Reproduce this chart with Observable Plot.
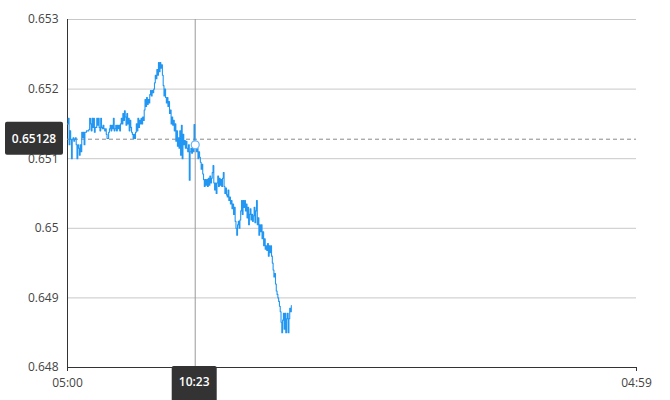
<!DOCTYPE html>
<html>
<head>
<meta charset="utf-8">
<script src="https://cdn.jsdelivr.net/npm/d3@7"></script>
<script src="https://cdn.jsdelivr.net/npm/@observablehq/plot@0.6"></script>
<style>
  html, body { margin: 0; padding: 0; background: #fff; }
  #chart svg { display: block; }
</style>
</head>
<body>
<div id="chart"></div>
<script>
// ---- Data ----
const sessionStart = "05:00";      // first quote
const sessionEnd = "04:59";        // end of axis (next day)
const stepMinutes = 2;             // spacing of quotes
const prices = [
  0.65150, 0.65158, 0.65120, 0.65140, 0.65128, 0.65100, 0.65128, 0.65130, 0.65125, 0.65128,
  0.65130, 0.65120, 0.65100, 0.65120, 0.65115, 0.65105, 0.65120, 0.65110, 0.65138, 0.65130,
  0.65138, 0.65120, 0.65138, 0.65138, 0.65140, 0.65140, 0.65140, 0.65142, 0.65158, 0.65150,
  0.65140, 0.65158, 0.65145, 0.65158, 0.65138, 0.65145, 0.65145, 0.65158, 0.65148, 0.65158,
  0.65145, 0.65140, 0.65158, 0.65145, 0.65143, 0.65148, 0.65143, 0.65140, 0.65143, 0.65135,
  0.65129, 0.65129, 0.65138, 0.65143, 0.65148, 0.65140, 0.65148, 0.65143, 0.65158, 0.65140,
  0.65143, 0.65148, 0.65140, 0.65148, 0.65143, 0.65148, 0.65140, 0.65150, 0.65158, 0.65150,
  0.65165, 0.65155, 0.65169, 0.65160, 0.65148, 0.65165, 0.65150, 0.65158, 0.65140, 0.65155,
  0.65145, 0.65138, 0.65135, 0.65129, 0.65135, 0.65129, 0.65138, 0.65150, 0.65140, 0.65158,
  0.65145, 0.65155, 0.65150, 0.65158, 0.65150, 0.65160, 0.65155, 0.65170, 0.65185, 0.65175,
  0.65188, 0.65178, 0.65185, 0.65180, 0.65192, 0.65198, 0.65190, 0.65198, 0.65195, 0.65200,
  0.65209, 0.65220, 0.65215, 0.65228, 0.65220, 0.65238, 0.65225, 0.65238, 0.65230, 0.65235,
  0.65220, 0.65205, 0.65190, 0.65200, 0.65188, 0.65180, 0.65188, 0.65175, 0.65182, 0.65165,
  0.65170, 0.65150, 0.65160, 0.65148, 0.65155, 0.65140, 0.65150, 0.65125, 0.65140, 0.65118,
  0.65130, 0.65115, 0.65140, 0.65105, 0.65148, 0.65100, 0.65135, 0.65120, 0.65126, 0.65115,
  0.65125, 0.65115, 0.65110, 0.65120, 0.65069, 0.65110, 0.65115, 0.65108, 0.65118, 0.65110,
  0.65149, 0.65120, 0.65118, 0.65110, 0.65115, 0.65100, 0.65110, 0.65102, 0.65095, 0.65085,
  0.65092, 0.65078, 0.65070, 0.65060, 0.65070, 0.65062, 0.65070, 0.65060, 0.65072, 0.65062,
  0.65075, 0.65065, 0.65072, 0.65080, 0.65090, 0.65065, 0.65055, 0.65065, 0.65050, 0.65065,
  0.65075, 0.65060, 0.65072, 0.65062, 0.65070, 0.65060, 0.65072, 0.65080, 0.65060, 0.65050,
  0.65058, 0.65048, 0.65045, 0.65055, 0.65040, 0.65045, 0.65035, 0.65040, 0.65028, 0.65035,
  0.65020, 0.65030, 0.65010, 0.65000, 0.64990, 0.65005, 0.65010, 0.65000, 0.65012, 0.65025,
  0.65040, 0.65020, 0.65040, 0.65030, 0.65040, 0.65025, 0.65035, 0.65015, 0.65030, 0.65005,
  0.65020, 0.65028, 0.65012, 0.65020, 0.65010, 0.65018, 0.65030, 0.65008, 0.65025, 0.65040,
  0.65005, 0.65015, 0.64990, 0.65005, 0.64995, 0.65005, 0.64985, 0.64995, 0.64975, 0.64985,
  0.64970, 0.64975, 0.64968, 0.64978, 0.64960, 0.64975, 0.64965, 0.64975, 0.64960, 0.64950,
  0.64940, 0.64930, 0.64935, 0.64920, 0.64910, 0.64905, 0.64900, 0.64895, 0.64888, 0.64880,
  0.64865, 0.64850, 0.64868, 0.64878, 0.64855, 0.64878, 0.64850, 0.64870, 0.64878, 0.64850,
  0.64870, 0.64885, 0.64880, 0.64889
];
const yTicks = [0.648, 0.649, 0.65, 0.651, 0.652, 0.653];
const cursorTimeLabel = "10:23";
const cursorPrice = 0.65120;     // point marked on the line
const cursorPriceLabel = 0.65128; // horizontal crosshair value

// ---- Build table ----
function hm(s, dayOffset = 0) {
  const [h, m] = s.split(":").map(Number);
  return new Date(Date.UTC(2024, 0, 1 + dayOffset, h, m));
}
const t0 = hm(sessionStart);
const tEnd = hm(sessionEnd, 1);
const tCursor = hm(cursorTimeLabel);
const data = prices.map((p, i) => ({ time: new Date(t0.getTime() + i * stepMinutes * 60000), price: p }));

const fmtTime = d3.utcFormat("%H:%M");
const font = "'Open Sans', 'Segoe UI', sans-serif";

// Custom mark: crosshair value labels (boxes)
function cursorLabels(index, scales, values, dims) {
  const g = d3.create("svg:g").attr("font-family", font).attr("font-size", 12).attr("font-weight", 600);
  const yy = scales.y(cursorPriceLabel);
  g.append("rect")
    .attr("x", dims.marginLeft - 62).attr("y", yy - 17)
    .attr("width", 58).attr("height", 33).attr("rx", 2)
    .attr("fill", "#333");
  g.append("text")
    .attr("x", dims.marginLeft - 33).attr("y", yy)
    .attr("dy", "0.35em").attr("text-anchor", "middle")
    .attr("fill", "#fff").text(d3.format(".5f")(cursorPriceLabel));
  const xx = scales.x(tCursor);
  const yb = dims.height - dims.marginBottom;
  g.append("rect")
    .attr("x", xx - 23).attr("y", yb - 1)
    .attr("width", 45).attr("height", 40).attr("rx", 2)
    .attr("fill", "#333");
  g.append("text")
    .attr("x", xx - 0.5).attr("y", yb + 15)
    .attr("dy", "0.35em").attr("text-anchor", "middle")
    .attr("fill", "#fff").text(fmtTime(tCursor));
  return g.node();
}

const chart = Plot.plot({
  width: 670,
  height: 400,
  marginTop: 19,
  marginRight: 34,
  marginBottom: 33,
  marginLeft: 67,
  style: { fontFamily: font, fontSize: "12px", color: "#444", background: "#fff" },
  x: { type: "utc", domain: [t0, tEnd] },
  y: { domain: [0.648, 0.653] },
  marks: [
    Plot.gridY(yTicks, { stroke: "#c8c8c8", strokeOpacity: 1 }),
    Plot.axisY(yTicks, { tickSize: 0, tickPadding: 9, label: null, tickFormat: d => String(+d.toFixed(3)), fill: "#444" }),
    Plot.axisX([t0, tEnd], { tickSize: 4, tickPadding: 7, label: null, tickFormat: fmtTime, stroke: "#333", fill: "#444" }),
    Plot.ruleX([t0], { stroke: "#333" }),
    Plot.ruleY([0.648], { stroke: "#333" }),
    Plot.ruleX([tCursor], { stroke: "#999" }),
    Plot.ruleY([cursorPriceLabel], { stroke: "#8a8a8a", strokeDasharray: "4,3" }),
    Plot.line(data, { x: "time", y: "price", stroke: "#2196F3", strokeWidth: 1.1, curve: "step-after" }),
    Plot.dot([{ time: tCursor, price: cursorPrice }], { x: "time", y: "price", r: 4, stroke: "#64B5F6", fill: "#fff", strokeWidth: 1.2 }),
    cursorLabels
  ]
});
document.getElementById("chart").appendChild(chart);
</script>
</body>
</html>
